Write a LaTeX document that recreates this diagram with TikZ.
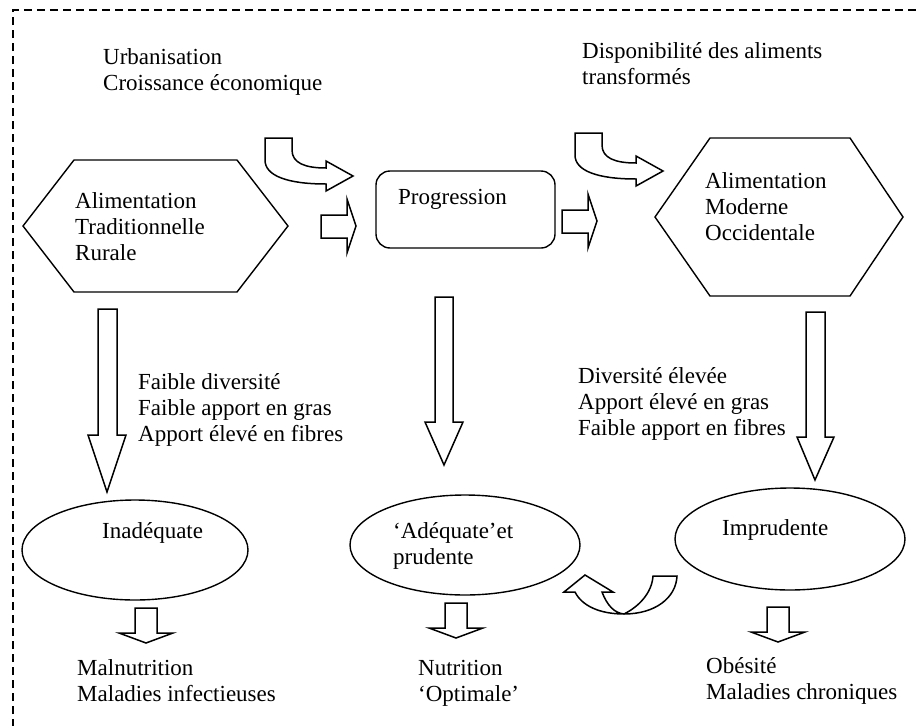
\documentclass[tikz,border=0pt]{standalone}
\usepackage{fontspec}
\setmainfont{Liberation Serif}
\usetikzlibrary{shapes.geometric}

\begin{document}
\begin{tikzpicture}[x=1pt, y=-1pt,
    font=\fontsize{23}{26}\selectfont,
    txt/.style={anchor=base west, align=left, inner sep=0pt},
    blockarrow/.style={draw, line width=1.5pt, line join=miter},
    outline/.style={draw, line width=1.4pt}]
    \useasboundingbox (0,0) rectangle (919,726);

    % dashed frame
    \draw[line width=1.8pt, dash pattern=on 8pt off 5pt] (13,740) -- (13,10) -- (935,10);

    % top texts (anchored at the baseline of the last line)
    \node[txt] (urban) at (103,90) {Urbanisation\\Croissance économique};
    \node[txt] (dispo) at (582,84) {Disponibilité des aliments\\transformés};

    % left hexagon
    \draw[outline] (23,226) -- (74,160) -- (237,160) -- (288,226) -- (237,292) -- (74,292) -- cycle;
    \node[txt] (trad) at (75,260) {Alimentation\\Traditionnelle\\Rurale};

    % progression box
    \node[outline, rounded corners=14pt, minimum width=179pt, minimum height=77pt] (progbox) at (465.5,209.5) {};
    \node[txt] (prog) at (398,204) {Progression};

    % right hexagon
    \draw[outline] (655,217) -- (710,138) -- (850,138) -- (903,217) -- (850,296) -- (710,296) -- cycle;
    \node[txt] (mod) at (705,240) {Alimentation\\Moderne\\Occidentale};

    % bent arrows (top)
    \foreach \dx/\dy in {0/0, 310/-5}
        \draw[blockarrow, shift={(\dx,\dy)}] (265,138) -- (265,160) .. controls (265,176) and (288,184) .. (326,184)
            -- (326,191) -- (353,176) -- (326,161) -- (326,168)
            .. controls (305,168) and (292,163) .. (292,150) -- (292,138) -- cycle;

    % straight arrows
    \foreach \dx/\dy in {0/0, 241/-5}
        \draw[blockarrow, shift={(\dx,\dy)}] (321,215) -- (347,215) -- (347,199) -- (356,226)
            -- (347,253) -- (347,238) -- (321,238) -- cycle;

    % big down arrows
    \draw[blockarrow] (98,309) -- (117,309) -- (117,435) -- (126,435) -- (107,492) -- (88,435) -- (98,435) -- cycle;
    \draw[blockarrow] (435,297) -- (453,297) -- (453,422) -- (463,422) -- (444,465) -- (425,422) -- (435,422) -- cycle;
    \draw[blockarrow] (806,312) -- (825,312) -- (825,437) -- (834,437) -- (815,480) -- (797,437) -- (806,437) -- cycle;

    % middle texts
    \node[txt] (faible) at (138,441) {Faible diversité\\Faible apport en gras\\Apport élevé en fibres};
    \node[txt] (divers) at (578,435) {Diversité élevée\\Apport élevé en gras\\Faible apport en fibres};

    % ellipses
    \node[outline, ellipse, minimum width=226pt, minimum height=100pt] (inad) at (135,550) {};
    \node[txt] (inadtxt) at (102,538) {Inadéquate};
    \node[outline, ellipse, minimum width=230pt, minimum height=100pt] (adeq) at (465,545) {};
    \node[txt] (adeqtxt) at (393,564) {‘Adéquate’et\\prudente};
    \node[outline, ellipse, minimum width=230pt, minimum height=102pt] (impr) at (790,539) {};
    \node[txt] (imprtxt) at (722,535) {Imprudente};

    % curved arrow back to the middle
    \draw[blockarrow] (564,592) -- (585,575) -- (613,592) -- (602,592)
        .. controls (607,605) and (614,613) .. (624,614)
        .. controls (640,606) and (652,592) .. (653,576) -- (677,576)
        .. controls (676,598) and (655,614) .. (624,614)
        .. controls (600,614) and (582,606) .. (575,592) -- cycle;

    % small down arrows
    \foreach \x/\y in {146/608, 456/603, 778/607}
        \draw[blockarrow, shift={(\x,\y)}] (-11,0) -- (11,0) -- (11,25) -- (27,25) -- (0,35) -- (-27,25) -- (-11,25) -- cycle;

    % bottom texts
    \node[txt] (maln) at (77,701) {Malnutrition\\Maladies infectieuses};
    \node[txt] (nutr) at (418,701) {Nutrition\\‘Optimale’};
    \node[txt] (obes) at (706,699) {Obésité\\Maladies chroniques};
\end{tikzpicture}
\end{document}
